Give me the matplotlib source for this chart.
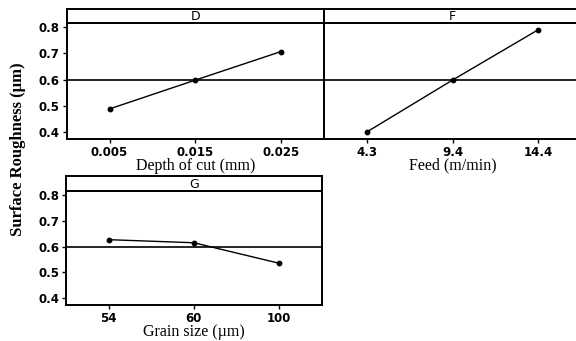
import matplotlib
matplotlib.use("Agg")
import matplotlib.pyplot as plt

# --- Data (main effects for surface roughness) ---
depth_labels = ["0.005", "0.015", "0.025"]
depth_means = [0.488, 0.598, 0.707]

feed_labels = ["4.3", "9.4", "14.4"]
feed_means = [0.400, 0.598, 0.790]

grain_labels = ["54", "60", "100"]
grain_means = [0.627, 0.615, 0.535]

grand_mean = 0.597
y_ticks = [0.4, 0.5, 0.6, 0.7, 0.8]
y_limits = (0.372, 0.817)

fig = plt.figure(figsize=(5.76, 3.41), dpi=100)

TICK_FONT = dict(family="DejaVu Sans", weight="bold", size=8.5)
LABEL_FONT = dict(family="Liberation Serif", size=11.5)


def draw_panel(rect, strip_h, title, labels, means, xlabel, show_y):
    left, bottom, width, height = rect
    ax = fig.add_axes([left, bottom, width, height])
    strip = fig.add_axes([left, bottom + height, width, strip_h])

    x = list(range(1, len(labels) + 1))
    ax.plot(x, means, color="black", lw=1.0, marker="o", ms=3.2)
    ax.axhline(grand_mean, color="black", lw=1.2)

    ax.set_xlim(0.5, 3.5)
    ax.set_ylim(*y_limits)
    ax.set_xticks(x)
    ax.set_xticklabels(labels, fontdict=TICK_FONT)
    ax.set_yticks(y_ticks)
    if show_y:
        ax.set_yticklabels([f"{v:.1f}" for v in y_ticks], fontdict=TICK_FONT)
    else:
        ax.tick_params(axis="y", left=False, labelleft=False)
    ax.tick_params(axis="both", direction="out", length=3, width=1.0, pad=2)
    ax.set_xlabel(xlabel, fontdict=LABEL_FONT, labelpad=-1)
    for s in ax.spines.values():
        s.set_linewidth(1.4)

    strip.set_xticks([])
    strip.set_yticks([])
    for s in strip.spines.values():
        s.set_linewidth(1.4)
    strip.text(0.5, 0.45, title, ha="center", va="center",
               fontsize=9, family="DejaVu Sans", transform=strip.transAxes)
    return ax


W = 576.0
H = 341.0


def rect_px(x0, x1, y_top, y_bot):
    return [x0 / W, 1 - y_bot / H, (x1 - x0) / W, (y_bot - y_top) / H]


draw_panel(rect_px(66.7, 324, 22.7, 139.3), 13.7 / H, "D",
           depth_labels, depth_means, "Depth of cut (mm)", True)
draw_panel(rect_px(324, 581, 22.7, 139.3), 13.7 / H, "F",
           feed_labels, feed_means, "Feed (m/min)", False)
draw_panel(rect_px(66, 321.7, 191, 305), 15.3 / H, "G",
           grain_labels, grain_means, "Grain size (\u00b5m)", True)

fig.text(0.031, 0.563, "Surface Roughness (\u00b5m)", rotation=90,
         ha="center", va="center", family="Liberation Serif",
         weight="bold", size=12)

fig.savefig("out.png", dpi=100)
